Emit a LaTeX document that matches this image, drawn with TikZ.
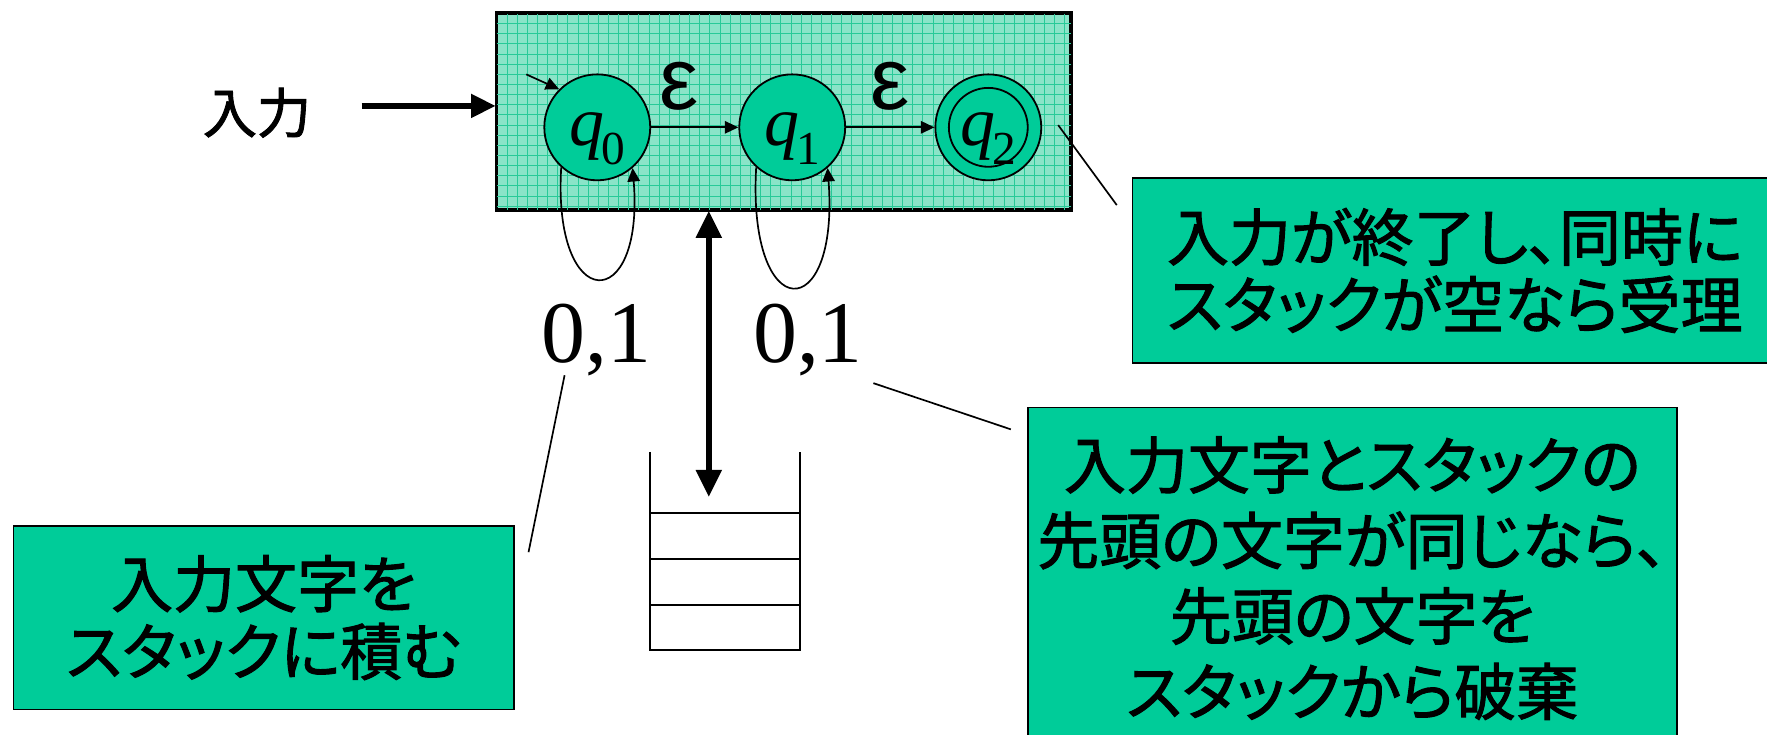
\documentclass[tikz,border=0pt]{standalone}
\usepackage{fontspec}
\usetikzlibrary{arrows.meta}
\newfontfamily\jpfont{Noto Sans CJK JP}[RawFeature=+palt,FakeBold=1.6]
\newfontfamily\tmsfont{Liberation Serif}
\newfontfamily\arialfont{Liberation Sans}
\definecolor{tealfill}{RGB}{0,204,153}
\definecolor{gridbg}{RGB}{138,228,200}
\definecolor{gridln}{RGB}{40,202,152}
\newcommand\qlab[1]{{\tmsfont\fontsize{62}{62}\selectfont\itshape q}\kern-3pt\raisebox{-17pt}{\tmsfont\fontsize{42}{42}\selectfont #1}}
\begin{document}
\begin{tikzpicture}[x=1pt,y=-1pt,
  statenode/.style={circle,draw=black,line width=1.6pt,fill=tealfill,minimum size=94pt,inner sep=0pt},
  callout/.style={rectangle,draw=black,line width=1.5pt,fill=tealfill,inner sep=0pt,align=center,text=black},
  thinl/.style={line width=1.5pt,draw=black},
  tarr/.style={line width=1.5pt,-{Triangle[length=12pt,width=11pt]}},
  bigarr/.style={line width=6pt,-{Triangle[length=22pt,width=20pt]}},
  dblarr/.style={line width=5pt,{Triangle[length=24pt,width=22pt]}-{Triangle[length=24pt,width=22pt]}},
  jp/.style={font=\jpfont\fontsize{55}{60}\selectfont},
  qtext/.style={anchor=base,inner sep=0pt},
  numlab/.style={font=\tmsfont\fontsize{78}{78}\selectfont,anchor=base,inner sep=0pt},
  epslab/.style={font=\arialfont\fontsize{78}{78}\selectfont,anchor=base,inner sep=0pt}
]
\useasboundingbox (0,0) rectangle (1568,652);
\clip (0,0) rectangle (1568,652);
\fill[white] (0,0) rectangle (1568,652);

% main box with grid pattern
\node[rectangle,draw=black,line width=2pt,fill=gridbg,minimum width=509pt,minimum height=174pt,inner sep=0pt] (pda) at (695.5,99) {};
\begin{scope}
  \clip (pda.south west) rectangle (pda.north east);
  \foreach \gx in {441,450,...,950} \draw[gridln,line width=0.9pt] (\gx,12) -- (\gx,186);
  \foreach \gy in {12,21,...,186} \draw[gridln,line width=0.9pt] (441,\gy) -- (950,\gy);
\end{scope}
\draw[line width=2pt] (pda.south west) rectangle (pda.north east);

% input label and arrow
\node[font=\jpfont\fontsize{48}{48}\selectfont,inner sep=0pt] (inlab) at (228,100) {入力};
\coordinate (instart) at (321,94);
\draw[bigarr] (instart) -- (instart -| pda.west);

% states
\node[statenode] (q0) at (530,113) {};
\node[statenode] (q1) at (703,113) {};
\node[statenode] (q2) at (877,113) {};
\draw[line width=1.6pt] (q2.center) circle[radius=35pt];
\node[qtext] (q0t) at ([yshift=-16pt]q0.center) {\qlab{0}};
\node[qtext] (q1t) at ([yshift=-16pt]q1.center) {\qlab{1}};
\node[qtext] (q2t) at ([yshift=-16pt]q2.center) {\qlab{2}};

% start arrow
\coordinate (st) at (467,66);
\draw[tarr] (st) -- (q0.135);

% transitions
\draw[tarr] (q0) -- (q1);
\draw[tarr] (q1) -- (q2);
\node[epslab] (e1) at (603,97) {ε};
\node[epslab] (e2) at (790,97) {ε};

% self loops
\draw[tarr] (q0.228) .. controls (490,280) and (572,280) .. (q0.-49);
\draw[tarr] (q1.228) .. controls (663,290) and (745,290) .. (q1.-49);

% loop labels
\node[numlab] (l0) at (529,322) {0,1};
\node[numlab] (l1) at (717,322) {0,1};

% stack
\draw[line width=2pt] (577,401) -- (577,577) -- (710,577) -- (710,401);
\draw[line width=2pt] (577,455) -- (710,455);
\draw[line width=2pt] (577,496) -- (710,496);
\draw[line width=2pt] (577,537) -- (710,537);
\coordinate (stk) at (629,441);
\draw[dblarr] (stk) -- (stk |- pda.south);

% callouts
\node[callout,jp,minimum width=572pt,minimum height=164pt] (c1) at (1291,240) {入力が終了し、同時に\\スタックが空なら受理};
\node[callout,jp,minimum width=444pt,minimum height=163pt] (c2) at (234,548) {入力文字を\\スタックに積む};
\node[callout,font=\jpfont\fontsize{55}{67}\selectfont,minimum width=576pt,minimum height=303pt] (c3) at (1200,513) {入力文字とスタックの\\先頭の文字が同じなら、\\先頭の文字を\\スタックから破棄};

% pointer lines
\coordinate (p1a) at (939,111); \coordinate (p1b) at (991,182);
\draw[thinl] (p1a) -- (p1b);
\coordinate (p2a) at (501,333); \coordinate (p2b) at (469,490);
\draw[thinl] (p2a) -- (p2b);
\coordinate (p3a) at (775,340); \coordinate (p3b) at (897,381);
\draw[thinl] (p3a) -- (p3b);
\end{tikzpicture}
\end{document}
